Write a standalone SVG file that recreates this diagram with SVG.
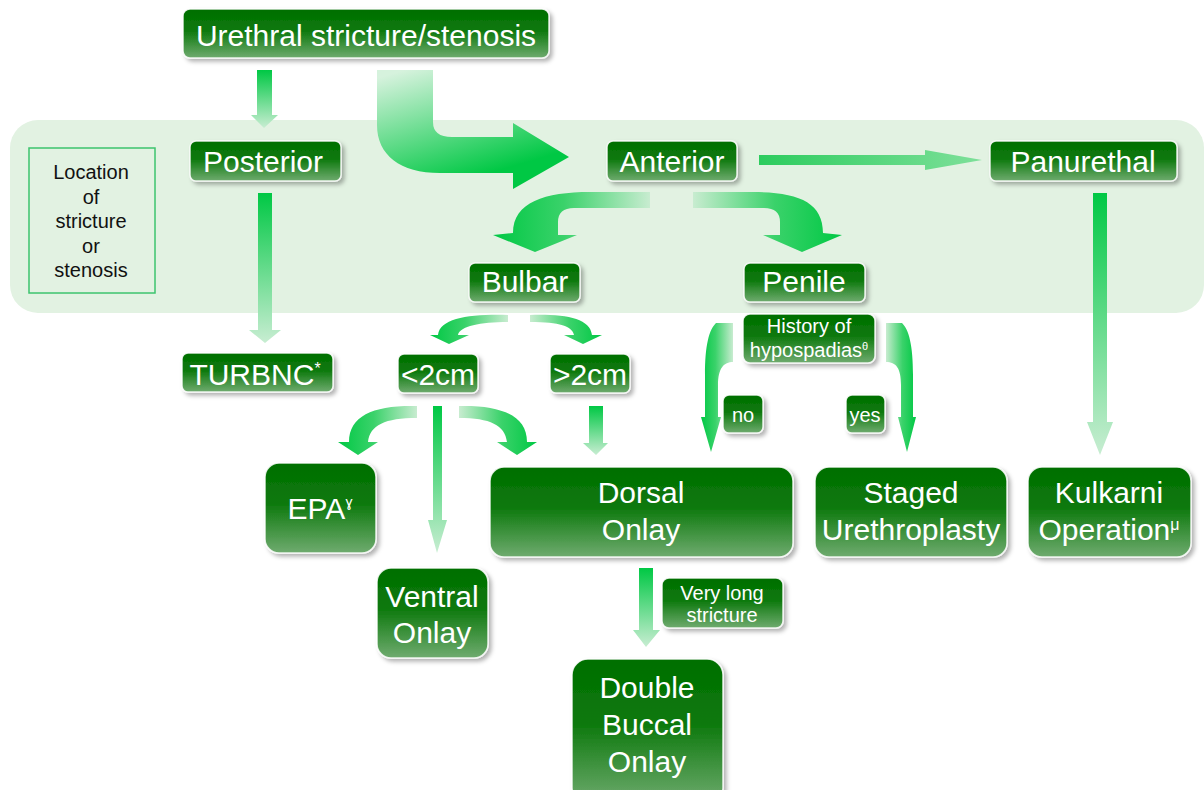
<svg xmlns="http://www.w3.org/2000/svg" width="1204" height="790" viewBox="0 0 1204 790">
<style>
.n rect{fill:url(#ng);stroke:#ffffff;stroke-opacity:.85;stroke-width:1.5;filter:url(#sh)}
.n text{fill:#ffffff;font-family:"Liberation Sans",Arial,sans-serif;font-size:30px;text-anchor:middle}
.n.s text{font-size:20px}
.lg text{fill:#111;font-family:"Liberation Sans",Arial,sans-serif;font-size:20px;text-anchor:middle}
.av{fill:url(#gv)}
</style>
<defs>
<filter id="sh" x="-10%" y="-10%" width="130%" height="140%">
<feDropShadow dx="3" dy="3" stdDeviation="2" flood-color="#000" flood-opacity="0.3"/>
</filter>
<linearGradient id="ng" x1="0" y1="0" x2="0" y2="1">
<stop offset="0" stop-color="#006f00"/>
<stop offset="0.45" stop-color="#0d790d"/>
<stop offset="1" stop-color="#6fab6f"/>
</linearGradient>
<linearGradient id="gv" x1="0" y1="0" x2="0" y2="1">
<stop offset="0" stop-color="#00c844"/>
<stop offset="1" stop-color="#c8edd2"/>
</linearGradient>
<linearGradient id="gbig" gradientUnits="userSpaceOnUse" x1="405" y1="70" x2="440" y2="188">
<stop offset="0" stop-color="#d6f2dd"/>
<stop offset="1" stop-color="#00c844"/>
</linearGradient>
<linearGradient id="gL" x1="1" y1="0" x2="0" y2="0">
<stop offset="0" stop-color="#c8ecd0"/>
<stop offset="0.55" stop-color="#3ad26a"/>
<stop offset="1" stop-color="#00c844"/>
</linearGradient>
<linearGradient id="gR" x1="0" y1="0" x2="1" y2="0">
<stop offset="0" stop-color="#c8ecd0"/>
<stop offset="0.55" stop-color="#3ad26a"/>
<stop offset="1" stop-color="#00c844"/>
</linearGradient>
<linearGradient id="gH" x1="0" y1="0" x2="1" y2="0">
<stop offset="0" stop-color="#2ccc5e"/>
<stop offset="1" stop-color="#7ee09a"/>
</linearGradient>
</defs>
<rect width="1204" height="790" fill="#ffffff"/>
<rect x="10" y="120" width="1194" height="193" rx="28" fill="#e2f2e2"/>
<g id="legend" class="lg">
<rect x="29" y="148" width="126" height="145" fill="none" stroke="#3cc46e" stroke-width="1.5"/>
<text x="91" y="179">Location</text>
<text x="91" y="204">of</text>
<text x="91" y="228">stricture</text>
<text x="91" y="253">or</text>
<text x="91" y="277">stenosis</text>
</g>
<g id="connectors">
<path class="av" d="M257,70 H272 V115 H278 L264,128 L251,115 H257 Z"/>
<path fill="url(#gbig)" d="M377,70 H433 V122 Q433,137 452,137 H513 V123 L569,157 L513,189 V173 H440 C400,173 377,155 377,125 Z"/>
<path fill="url(#gH)" d="M759,155 H925 V150 L982,160 L925,170 V165 H759 Z"/>
<path class="av" d="M258,193 H272 V330 H281 L265,343 L249,330 H258 Z"/>
<path class="av" d="M1093,193 H1107 V422 H1113 L1100,455 L1087,422 H1093 Z"/>
<path fill="url(#gL)" d="M650,192 L590,192 C545,192 513,202 513,233 L493,235 L535,252 L577,235 L558,235 L558,222 Q558,208 574,208 L650,208 Z"/>
<path fill="url(#gR)" d="M693,192 L753,192 C798,192 823,202 823,233 L842,235 L802,252 L763,235 L780,235 L780,222 Q780,208 764,208 L693,208 Z"/>
<path fill="url(#gL)" d="M508,315 C470,314 440,318 438,335 L430,335 L449,344 L469,335 L458,335 C460,326 480,322 508,322 Z"/>
<path fill="url(#gR)" d="M530,315 C565,314 590,318 592,335 L602,335 L583,344 L564,335 L574,335 C572,326 560,322 530,322 Z"/>
<path fill="url(#gL)" d="M417,406 C375,405 349,415 349,442 L338,442 L358,455 L378,442 L368,442 C370,425 385,418 417,418 Z"/>
<path class="av" d="M433,406 H442 V520 H447 L437,553 L428,520 H433 Z"/>
<path fill="url(#gR)" d="M459,406 C500,405 527,415 527,442 L537,442 L517,455 L497,442 L507,442 C505,425 490,418 459,418 Z"/>
<path class="av" d="M589,406 H603 V443 H608 L596,455 L583,443 H589 Z"/>
<path fill="url(#gL)" d="M716,323 L733,323 L733,362 C724,362 718,368 718,385 L718,417 L721,417 L711,452 L701,417 L705,417 L705,375 C705,345 709,330 716,323 Z"/>
<path fill="url(#gR)" d="M886,323 L902,323 C909,330 913,345 913,375 L913,417 L916,417 L907,452 L898,417 L901,417 L901,385 C901,368 896,362 886,362 Z"/>
<path class="av" d="M639,568 H653 V630 H660 L646,647 L633,630 H639 Z"/>
</g>
<g id="n-urethral" class="n"><rect x="183" y="9" width="366" height="49" rx="7"/><text x="366" y="46">Urethral stricture/stenosis</text></g>
<g id="n-posterior" class="n"><rect x="190" y="141" width="151" height="40" rx="6"/><text x="263" y="172">Posterior</text></g>
<g id="n-anterior" class="n"><rect x="607" y="141" width="130" height="40" rx="6"/><text x="672" y="172">Anterior</text></g>
<g id="n-panurethal" class="n"><rect x="990" y="141" width="187" height="40" rx="6"/><text x="1083" y="172">Panurethal</text></g>
<g id="n-bulbar" class="n"><rect x="469" y="263" width="111" height="39" rx="6"/><text x="525" y="292">Bulbar</text></g>
<g id="n-penile" class="n"><rect x="744" y="263" width="121" height="39" rx="6"/><text x="804" y="292">Penile</text></g>
<g id="n-turbnc" class="n"><rect x="182" y="353" width="151" height="39" rx="6"/><text x="255" y="385">TURBNC<tspan font-size="16" dy="-11">*</tspan></text></g>
<g id="n-lt2" class="n"><rect x="398" y="354" width="80" height="39" rx="6"/><text x="438" y="385">&lt;2cm</text></g>
<g id="n-gt2" class="n"><rect x="550" y="354" width="80" height="39" rx="6"/><text x="590" y="385">&gt;2cm</text></g>
<g id="n-history" class="n s"><rect x="743" y="314" width="132" height="49" rx="7"/><text x="809" y="333">History of</text><text x="809" y="357">hypospadias<tspan font-size="11" dy="-7">θ</tspan></text></g>
<g id="n-no" class="n s"><rect x="723" y="395" width="40" height="38" rx="6"/><text x="743" y="422">no</text></g>
<g id="n-yes" class="n s"><rect x="846" y="395" width="39" height="38" rx="6"/><text x="865" y="422">yes</text></g>
<g id="n-epa" class="n"><rect x="265" y="463" width="111" height="90" rx="14"/><text x="320" y="519">EPA<tspan font-size="14" dy="-12">ɣ</tspan></text></g>
<g id="n-dorsal" class="n"><rect x="490" y="467" width="303" height="90" rx="14"/><text x="641" y="503">Dorsal</text><text x="641" y="540">Onlay</text></g>
<g id="n-staged" class="n"><rect x="815" y="467" width="192" height="90" rx="14"/><text x="911" y="503">Staged</text><text x="911" y="540">Urethroplasty</text></g>
<g id="n-kulkarni" class="n"><rect x="1028" y="467" width="163" height="90" rx="14"/><text x="1109" y="503">Kulkarni</text><text x="1109" y="540">Operation<tspan font-size="16" dy="-10">μ</tspan></text></g>
<g id="n-ventral" class="n"><rect x="377" y="568" width="111" height="90" rx="14"/><text x="432" y="607">Ventral</text><text x="432" y="643">Onlay</text></g>
<g id="n-verylong" class="n s"><rect x="662" y="578" width="121" height="50" rx="7"/><text x="722" y="600">Very long</text><text x="722" y="622">stricture</text></g>
<g id="n-double" class="n"><rect x="572" y="659" width="151" height="145" rx="16"/><text x="647" y="698">Double</text><text x="647" y="735">Buccal</text><text x="647" y="772">Onlay</text></g>
</svg>
